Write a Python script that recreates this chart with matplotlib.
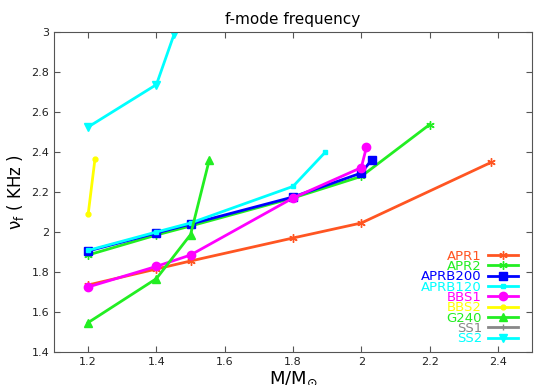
import matplotlib
matplotlib.use('Agg')
import matplotlib.pyplot as plt

# f-mode frequency vs mass, one list pair per EOS
apr1_m = [1.2, 1.4, 1.5, 1.8, 2.0, 2.38]
apr1_f = [1.735, 1.815, 1.855, 1.97, 2.045, 2.348]

apr2_m = [1.2, 1.4, 1.5, 1.8, 2.0, 2.2]
apr2_f = [1.885, 1.985, 2.03, 2.17, 2.278, 2.537]

aprb200_m = [1.2, 1.4, 1.5, 1.8, 2.0, 2.03]
aprb200_f = [1.905, 1.995, 2.04, 2.175, 2.295, 2.36]

aprb120_m = [1.2, 1.4, 1.5, 1.8, 1.895]
aprb120_f = [1.908, 2.0, 2.045, 2.228, 2.4]

bbs1_m = [1.2, 1.4, 1.5, 1.8, 2.0, 2.015]
bbs1_f = [1.725, 1.828, 1.885, 2.17, 2.322, 2.423]

bbs2_m = [1.2, 1.22]
bbs2_f = [2.088, 2.365]

g240_m = [1.2, 1.4, 1.5, 1.555]
g240_f = [1.547, 1.767, 1.987, 2.362]

ss1_m = []
ss1_f = []

ss2_m = [1.2, 1.4, 1.452]
ss2_f = [2.525, 2.737, 2.99]

fig = plt.figure(figsize=(5.5, 3.85), dpi=100)
ax = fig.add_axes([54/550, 1-352/385, 478/550, 320/385])

lw = 2
ax.plot(apr1_m, apr1_f, color='#ff5522', lw=lw, marker=(6, 2, 0), ms=6, label='APR1')
ax.plot(apr2_m, apr2_f, color='#22ee22', lw=lw, marker=(6, 2, 0), ms=6, label='APR2')
ax.plot(aprb200_m, aprb200_f, color='#0000ff', lw=lw, marker='s', ms=6, label='APRB200')
ax.plot(aprb120_m, aprb120_f, color='#00ffff', lw=lw, marker='s', ms=3.5, label='APRB120')
ax.plot(bbs1_m, bbs1_f, color='#ff00ff', lw=lw, marker='o', ms=6, label='BBS1')
ax.plot(bbs2_m, bbs2_f, color='#ffff00', lw=lw, marker='o', ms=3.5, label='BBS2')
ax.plot(g240_m, g240_f, color='#22ee22', lw=lw, marker='^', ms=6, label='G240')
ax.plot(ss1_m, ss1_f, color='#888888', lw=lw, marker='+', ms=4, label='SS1')
ax.plot(ss2_m, ss2_f, color='#00ffff', lw=lw, marker='v', ms=6, label='SS2')

ax.set_xlim(1.1, 2.5)
ax.set_ylim(1.4, 3.0)
ax.set_xticks([1.2, 1.4, 1.6, 1.8, 2.0, 2.2, 2.4])
ax.set_xticklabels(['1.2', '1.4', '1.6', '1.8', '2', '2.2', '2.4'])
ax.set_yticks([1.4, 1.6, 1.8, 2.0, 2.2, 2.4, 2.6, 2.8, 3.0])
ax.set_yticklabels(['1.4', '1.6', '1.8', '2', '2.2', '2.4', '2.6', '2.8', '3'])
ax.tick_params(direction='in', top=True, right=True, length=4, color='#555555',
               labelsize=8, labelcolor='#222222')
for s in ax.spines.values():
    s.set_color('#555555')

ax.set_title('f-mode frequency', fontsize=11, pad=6)
ax.set_xlabel(r'M/M$_{\odot}$', fontsize=13, labelpad=2)
ax.set_ylabel('ν$_\\mathrm{f}$ ( KHz )', fontsize=12, labelpad=4)

leg = ax.legend(loc='lower right', frameon=False, markerfirst=False, fontsize=9.5,
                labelcolor='linecolor', labelspacing=-0.2, handlelength=2.3,
                handletextpad=0.45, borderaxespad=0.1,
                bbox_to_anchor=(0.985, 0.0))

fig.savefig('out.png', dpi=100)
